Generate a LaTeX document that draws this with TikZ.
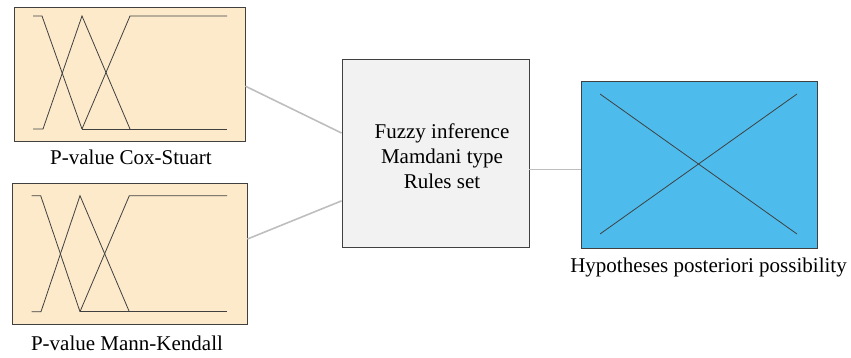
\documentclass[tikz,border=0pt]{standalone}
\usepackage{fontspec}
\setmainfont{Liberation Serif}
\usepackage{tikz}
\usetikzlibrary{positioning}
\definecolor{mfbeige}{RGB}{252,234,203}
\definecolor{postblue}{RGB}{77,188,236}
\definecolor{infgrey}{RGB}{242,242,242}
\definecolor{edgegrey}{RGB}{64,64,64}
\definecolor{linkgrey}{RGB}{190,190,190}
\newcommand{\capfont}{\fontsize{21}{25}\selectfont}

\begin{document}
\begin{tikzpicture}[x=1pt,y=-1pt,
		box/.style={draw=edgegrey, line width=0.9pt, inner sep=0pt},
		mf/.style={draw=black!75, line width=0.8pt},
		link/.style={draw=linkgrey, line width=1.6pt},
		caption/.style={font=\capfont, inner sep=0pt}]
			\useasboundingbox (0,0) rectangle (851,358);
			% input boxes
			\node[box, fill=mfbeige, minimum width=231pt, minimum height=134pt] (cox) at (129.5,74) {};
			\node[box, fill=mfbeige, minimum width=235pt, minimum height=141pt] (mk) at (129.5,253.5) {};
			% membership functions
			\draw[mf] (33,16) -- (42,16) -- (82,129);
			\draw[mf] (33,129) -- (43,129) -- (82,16) -- (130,129);
			\draw[mf] (82,129) -- (130,16) -- (227,16);
			\draw[mf] (82,129) -- (227,129);
			\draw[mf] (31.7,195.7) -- (40.7,195.7) -- (80,311.7);
			\draw[mf] (31.7,311.7) -- (41,311.7) -- (80,195.7) -- (129.3,311.7);
			\draw[mf] (80,311.7) -- (129.3,195.7) -- (227,195.7);
			\draw[mf] (80,311.7) -- (227,311.7);
			\node[caption, anchor=base] (coxlabel) at (131,165) {P-value Cox-Stuart};
			\node[caption, anchor=base] (mklabel) at (127,350) {P-value Mann-Kendall};
			% inference
			\node[box, fill=infgrey, minimum width=187pt, minimum height=188pt] (inf) at (435.5,153) {};
			\node[caption, align=center] (inftext) at (442,156) {Fuzzy inference\\Mamdani type\\Rules set};
			% output
			\node[box, fill=postblue, minimum width=236pt, minimum height=167pt] (post) at (699,164.5) {};
			\draw[edgegrey, line width=0.8pt] (600,94) -- (797,234);
			\draw[edgegrey, line width=0.8pt] (600,234) -- (797,94);
			\node[caption, anchor=base] (postlabel) at (708.5,272) {Hypotheses posteriori possibility};
			% connectors
			\draw[link] (cox.-6.4) -- (inf.168.6);
			\draw[link] (mk.7.5) -- (inf.-153.4);
			\draw[link] (inf.-10.7) -- (inf.-10.7 -| post.west);
			\end{tikzpicture}
\end{document}
